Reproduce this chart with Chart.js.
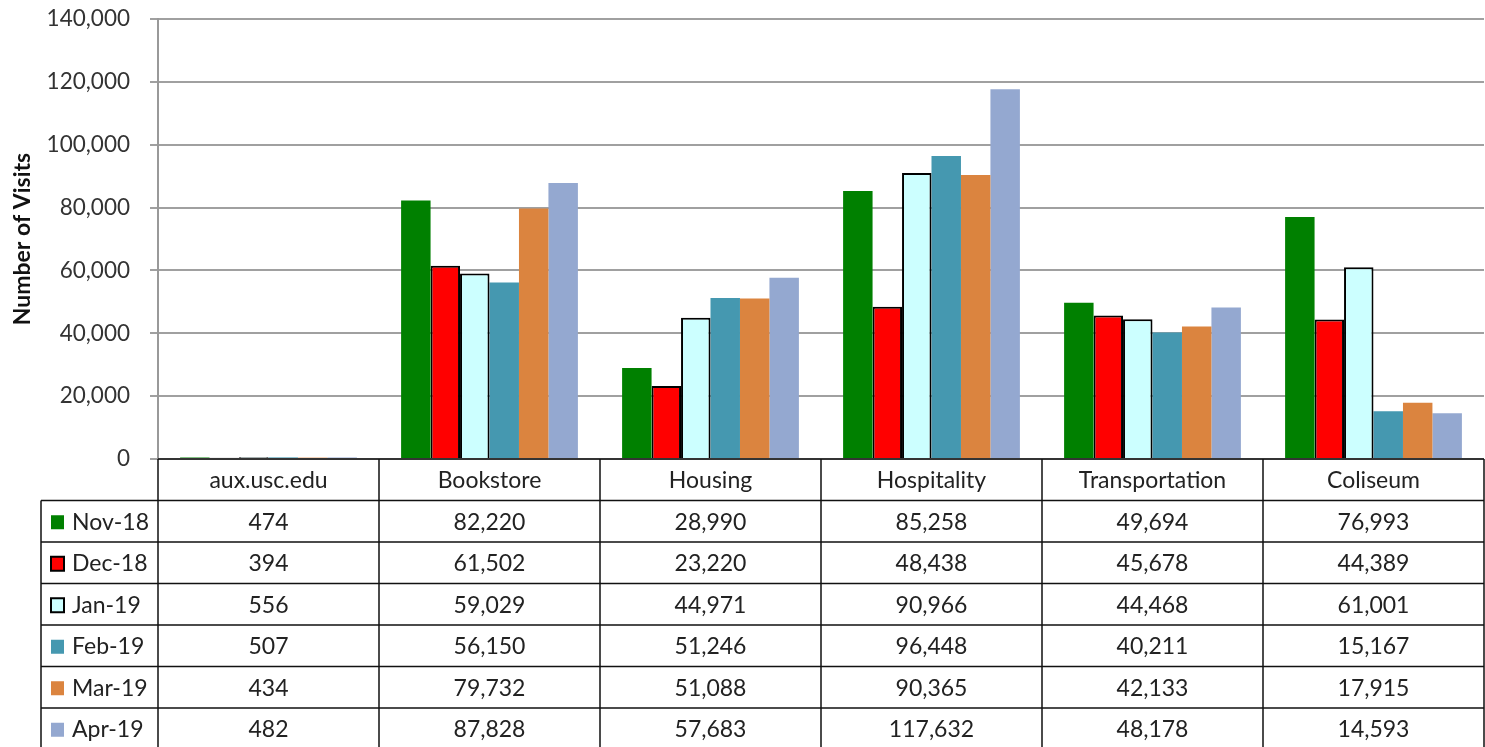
<!DOCTYPE html>
<html>
<head>
<meta charset="utf-8">
<script src="https://cdn.jsdelivr.net/npm/chart.js@4.4.1/dist/chart.umd.min.js"></script>
<style>
  html, body { margin: 0; padding: 0; background: #fff; }
  #wrap { width: 1485px; height: 747px; }
</style>
</head>
<body>
<div id="wrap"><canvas id="visits-chart" width="1485" height="747"></canvas></div>
<script>
// categorias y series
const categories = ['aux.usc.edu', 'Bookstore', 'Housing', 'Hospitality', 'Transportation', 'Coliseum'];
const months = ['Nov-18', 'Dec-18', 'Jan-19', 'Feb-19', 'Mar-19', 'Apr-19'];
const nov18 = [474, 82220, 28990, 85258, 49694, 76993];
const dec18 = [394, 61502, 23220, 48438, 45678, 44389];
const jan19 = [556, 59029, 44971, 90966, 44468, 61001];
const feb19 = [507, 56150, 51246, 96448, 40211, 15167];
const mar19 = [434, 79732, 51088, 90365, 42133, 17915];
const apr19 = [482, 87828, 57683, 117632, 48178, 14593];
const yTicks = [0, 20000, 40000, 60000, 80000, 100000, 120000, 140000];

const series = [nov18, dec18, jan19, feb19, mar19, apr19];
const fills = ['#008000', '#ff0000', '#ccffff', '#4598b0', '#db843f', '#94a8d0'];
const borders = [null, '#000000', '#000000', null, null, null];

const FONT = 'Lato, "Open Sans", sans-serif';

// tabla de datos debajo del grafico
const dataTable = {
    id: 'dataTable',
    afterDraw(chart) {
        const ctx = chart.ctx;
        const xs = chart.scales.x;
        const area = chart.chartArea;
        const n = categories.length;
        const colW = (area.right - area.left) / n;
        const top = area.bottom;
        const rowH = 41.5;
        const legendLeft = 41;
        const bottom = top + rowH * (months.length + 1);

        ctx.save();
        ctx.strokeStyle = '#111';
        ctx.lineWidth = 1.5;

        // lineas horizontales
        ctx.beginPath();
        ctx.moveTo(area.left, top);
        ctx.lineTo(area.right, top);
        for (let r = 1; r <= months.length + 1; r++) {
            const y = top + rowH * r;
            ctx.moveTo(legendLeft, y);
            ctx.lineTo(area.right, y);
        }
        // lineas verticales
        for (let c = 0; c <= n; c++) {
            const x = area.left + colW * c;
            ctx.moveTo(x, top);
            ctx.lineTo(x, bottom);
        }
        ctx.moveTo(legendLeft, top + rowH);
        ctx.lineTo(legendLeft, bottom);
        ctx.stroke();

        ctx.fillStyle = '#222';
        ctx.font = '23px ' + FONT;
        ctx.textAlign = 'center';
        ctx.textBaseline = 'middle';
        categories.forEach((cat, i) => {
            ctx.fillText(cat, xs.getPixelForValue(i), top + rowH / 2 + 1);
        });

        months.forEach((m, r) => {
            const yc = top + rowH * (r + 1.5) + 1;
            // cuadro de leyenda
            ctx.fillStyle = fills[r];
            ctx.fillRect(51, yc - 7, 13, 14);
            if (borders[r]) {
                ctx.strokeStyle = borders[r];
                ctx.lineWidth = 2;
                ctx.strokeRect(51, yc - 7, 13, 14);
            }
            ctx.fillStyle = '#222';
            ctx.textAlign = 'left';
            ctx.fillText(m, 72, yc);
            ctx.textAlign = 'center';
            series[r].forEach((v, i) => {
                ctx.fillText(v.toLocaleString('en-US'), xs.getPixelForValue(i), yc);
            });
        });
        ctx.restore();
    }
};

new Chart(document.getElementById('visits-chart'), {
    type: 'bar',
    data: {
        labels: categories,
        datasets: months.map((m, i) => ({
            label: m,
            data: series[i],
            backgroundColor: fills[i],
            borderColor: borders[i] || fills[i],
            borderWidth: borders[i] ? 2 : 0,
            categoryPercentage: 0.8,
            barPercentage: 1.0
        }))
    },
    options: {
        responsive: false,
        animation: false,
        layout: { padding: { top: 19, right: 1, bottom: 288, left: 0 } },
        plugins: {
            legend: { display: false },
            tooltip: { enabled: false }
        },
        scales: {
            x: { display: false },
            y: {
                min: 0,
                max: 140000,
                afterBuildTicks: (s) => { s.ticks = yTicks.map(v => ({ value: v })); },
                afterFit: (s) => {
                    s.width = 158;
                    s.paddingTop = 0;
                    s.paddingBottom = 0;
                },
                border: { display: true, color: '#999', width: 2 },
                grid: { color: '#a0a0a0', lineWidth: 2, tickLength: 8 },
                ticks: {
                    color: '#333',
                    padding: 20,
                    font: { family: FONT, size: 22.5 },
                    callback: (v) => v.toLocaleString('en-US')
                },
                title: {
                    display: true,
                    text: 'Number of Visits',
                    color: '#111',
                    padding: { top: 9, bottom: 0 },
                    font: { family: FONT, size: 23, weight: 'bold' }
                }
            }
        }
    },
    plugins: [dataTable]
});
</script>
</body>
</html>
